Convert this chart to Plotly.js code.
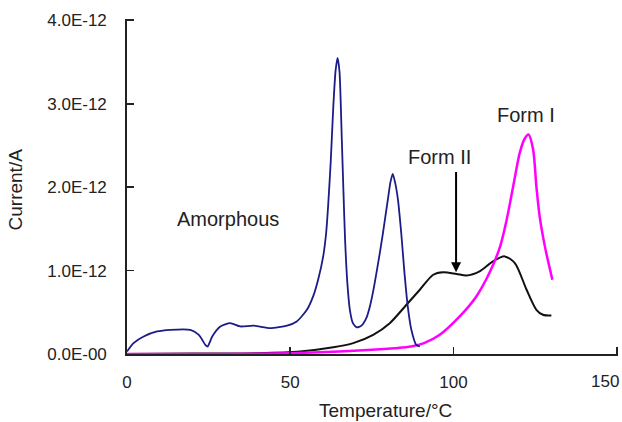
<!DOCTYPE html>
<html>
<head>
<meta charset="utf-8">
<script src="https://cdn.plot.ly/plotly-3.0.1.min.js"></script>
<style>html,body{margin:0;padding:0;background:#fff;}#chart{width:622px;height:422px;}</style>
</head>
<body>
<div id="chart"></div>
<script>
// Values in units of 1E-12 A
const PICO = 1e-12;

const amorphousT = [0, 2.0, 5.1, 9.2, 13.3, 19.4, 22.0, 24.0, 24.7, 26.1, 28.6, 31.6, 34.7, 38.8, 43.9, 49.0, 52.0, 55.1, 57.1, 58.6, 60.1, 61.0, 61.6, 62.4, 63.2, 63.9, 64.5, 65.1, 65.8, 66.3, 66.8, 67.5, 68.3, 69.2, 70.4, 71.8, 73.3, 74.4, 75.4, 76.4, 77.4, 78.4, 79.9, 80.7, 81.4, 82.1, 83.0, 84.0, 85.0, 86.0, 87.1, 88.6, 89.7];
const amorphousI = [0.03, 0.13, 0.21, 0.27, 0.29, 0.29, 0.23, 0.11, 0.09, 0.21, 0.33, 0.37, 0.33, 0.34, 0.31, 0.34, 0.39, 0.53, 0.70, 0.90, 1.17, 1.45, 1.77, 2.30, 2.97, 3.40, 3.55, 3.38, 2.57, 1.95, 1.37, 0.85, 0.52, 0.37, 0.32, 0.34, 0.43, 0.57, 0.75, 0.97, 1.20, 1.45, 1.85, 2.06, 2.16, 2.06, 1.85, 1.45, 0.97, 0.57, 0.29, 0.11, 0.09];

const form2T = [0, 20, 40, 53.0, 63.2, 69.3, 75.4, 80.5, 85.6, 89.7, 93.8, 96.8, 100.9, 104.0, 108.0, 112.1, 115.7, 118.8, 122.4, 125.4, 127.4, 130.0];
const form2I = [0.0, 0.005, 0.01, 0.03, 0.08, 0.13, 0.23, 0.37, 0.59, 0.77, 0.95, 0.98, 0.96, 0.94, 0.99, 1.11, 1.17, 1.09, 0.77, 0.53, 0.47, 0.46];

const form1T = [0, 30, 50, 65, 75, 82, 87, 91, 95.8, 101.9, 107.0, 111.0, 114.3, 116.3, 118.3, 120.3, 121.8, 123.0, 124.4, 125.4, 126.4, 128.0, 130.3];
const form1I = [0.0, 0.0, 0.01, 0.03, 0.05, 0.07, 0.09, 0.13, 0.23, 0.45, 0.69, 0.97, 1.29, 1.61, 2.01, 2.41, 2.58, 2.63, 2.45, 2.01, 1.65, 1.29, 0.89];

const yTickVals = [0, 1, 2, 3, 4];
const yTickText = ['0.0E-00', '1.0E-12', '2.0E-12', '3.0E-12', '4.0E-12'];
const xTickVals = [0, 50, 100, 150];
const xTickText = ['0', '50', '100', '150'];

const toAmp = a => a.map(v => v * PICO);

const font = 'Liberation Sans, Arial, Helvetica, sans-serif';

const traces = [
  {x: form2T, y: toAmp(form2I), mode: 'lines', line: {color: '#111111', width: 2, shape: 'spline', smoothing: 0.8}, name: 'Form II'},
  {x: form1T, y: toAmp(form1I), mode: 'lines', line: {color: '#ff00ff', width: 2.5, shape: 'spline', smoothing: 0.8}, name: 'Form I'},
  {x: amorphousT, y: toAmp(amorphousI), mode: 'lines', line: {color: '#1c1c88', width: 1.8, shape: 'spline', smoothing: 0.6}, name: 'Amorphous'}
];

const XMAX = 150.4, YMAX = 4.015;
const L = 126.5, B = 68;
const PW = 490.5 * XMAX / 150, PH = 333.3 * YMAX / 4;
const R = 622 - L - PW, T = 422 - B - PH;

const layout = {
  width: 622, height: 422,
  margin: {l: L, r: R, t: T, b: B},
  paper_bgcolor: '#fff', plot_bgcolor: '#fff',
  showlegend: false,
  font: {family: font, size: 17, color: '#222'},
  xaxis: {
    range: [0, XMAX], tickvals: xTickVals, ticktext: xTickText.map((t, i) => i === xTickText.length - 1 ? '' : t),
    ticks: 'inside', ticklen: 7, tickwidth: 1.8, tickcolor: '#222',
    showline: true, linecolor: '#222', linewidth: 1.8, showgrid: false, zeroline: false,
    ticklabelstandoff: 12, tickfont: {size: 17, family: font, color: '#222'}
  },
  yaxis: {
    range: [0, YMAX * PICO], tickvals: toAmp(yTickVals), ticktext: yTickText,
    ticks: 'inside', ticklen: 7, tickwidth: 1.8, tickcolor: '#222',
    showline: true, linecolor: '#222', linewidth: 1.8, showgrid: false, zeroline: false,
    ticklabelstandoff: 15, tickfont: {size: 17, family: font, color: '#222'}
  },
  annotations: [
    {x: 100.8, y: 0.98 * PICO, ax: 100.8, ay: 2.2 * PICO, axref: 'x', ayref: 'y', xref: 'x', yref: 'y',
     showarrow: true, arrowhead: 2, arrowsize: 1, arrowwidth: 2, arrowcolor: '#000', text: ''},
    {x: 95.7, y: 2.36 * PICO, xref: 'x', yref: 'y', text: 'Form II', showarrow: false, font: {size: 20, family: font, color: '#222'}},
    {x: 122.3, y: 2.87 * PICO, xref: 'x', yref: 'y', text: 'Form I', showarrow: false, font: {size: 20, family: font, color: '#222'}},
    {x: 30.9, y: 1.62 * PICO, xref: 'x', yref: 'y', text: 'Amorphous', showarrow: false, font: {size: 20, family: font, color: '#222'}},
    {x: (621 - L) / PW, y: (422 - B - 381) / PH, xref: 'paper', yref: 'paper', text: xTickText[xTickText.length - 1], showarrow: false, xanchor: 'right', yanchor: 'middle', font: {size: 17, family: font, color: '#222'}},
    {x: (385.8 - L) / PW, y: (422 - B - 410) / PH, xref: 'paper', yref: 'paper', text: 'Temperature/°C', showarrow: false, xanchor: 'center', yanchor: 'middle', font: {size: 19, family: font, color: '#222'}},
    {x: (15 - L) / PW, y: (422 - B - 190) / PH, xref: 'paper', yref: 'paper', text: 'Current/A', textangle: -90, showarrow: false, xanchor: 'center', yanchor: 'middle', font: {size: 19, family: font, color: '#222'}}
  ]
};

Plotly.newPlot('chart', traces, layout, {displayModeBar: false, staticPlot: true});
</script>
</body>
</html>
